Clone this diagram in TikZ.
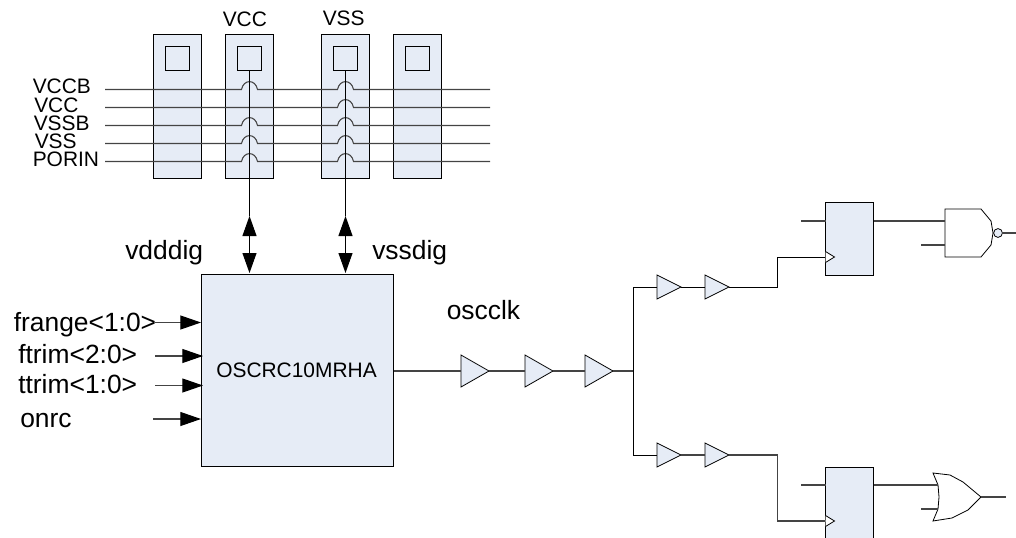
\documentclass[tikz,border=0pt]{standalone}
\usepackage{fontspec}
\setmainfont{Liberation Sans}
\usetikzlibrary{arrows.meta,shapes.geometric,calc}
\definecolor{blockfill}{HTML}{E6ECF6}
\definecolor{wiregrey}{HTML}{444444}
\tikzset{
  x=0.75pt,y=-0.75pt,
  box/.style={draw=black,fill=blockfill,line width=0.75pt,inner sep=0,outer sep=0},
  padbox/.style={box,minimum width=36pt,minimum height=108pt},
  padsq/.style={box,minimum width=18pt,minimum height=18pt},
  ffbox/.style={box,minimum width=36pt},
  wire/.style={draw=wiregrey,line width=0.8pt},
  bwire/.style={draw=black,line width=0.75pt},
  bigbuf/.style={draw=black,fill=blockfill,line width=0.6pt,isosceles triangle,isosceles triangle stretches,inner sep=0,outer sep=0,minimum width=24pt,minimum height=21pt,anchor=west},
  smallbuf/.style={bigbuf,minimum width=18pt,minimum height=18pt},
  lblS/.style={anchor=base west,inner sep=0,font=\fontsize{15.7}{18}\selectfont},
  lblB/.style={anchor=base west,inner sep=0,font=\fontsize{19.8}{22}\selectfont},
  dbl/.style={bwire,{Triangle[length=15pt,width=10.5pt]}-{Triangle[length=15pt,width=10.5pt]}},
  inarrow/.style={wire,-{Triangle[length=15.5pt,width=10.5pt,color=black,fill=black]}},
  gate/.style={draw=black,line width=0.6pt,fill=white},
  clk/.style={draw=black,line width=0.6pt,fill=white,line join=miter}
}
\begin{document}
\begin{tikzpicture}
\useasboundingbox (0,0) rectangle (1016,538);
% pads
\node[padbox] (pad1) at (177.5,107) {};
\node[padbox] (pad2) at (249.5,107) {};
\node[padbox] (pad3) at (345.5,107) {};
\node[padbox] (pad4) at (417.5,107) {};
\node[padsq] (sq1) at (177.5,59) {};
\node[padsq] (sq2) at (249.5,59) {};
\node[padsq] (sq3) at (345.5,59) {};
\node[padsq] (sq4) at (417.5,59) {};
% block
\node[box,minimum width=144pt,minimum height=144pt] (osc) at (297.5,370.5) {};
\node[lblS] (osclbl) at (216,377.5) {OSCRC10MRHA};
% buses
\newcommand{\hopat}[1]{-- (#1-8,\yb) .. controls (#1-6,\yb-10.5) and (#1+6,\yb-10.5) .. (#1+8,\yb)}
\foreach \yb/\nm in {89.5/a,125.5/c,143.5/d,161.5/e}{
  \coordinate (busL\nm) at (105,\yb);
  \coordinate (busR\nm) at (490,\yb);
  \draw[wire] (busL\nm) \hopat{249.5} \hopat{345.5} -- (busR\nm);
}
\coordinate (busLb) at (105,107.5);
\coordinate (busRb) at (490,107.5);
\def\yb{107.5}
\draw[wire] (busLb) \hopat{345.5} -- (busRb);
% bus labels
\node[lblS] (lvccb) at (32.5,93.5) {VCCB};
\node[lblS] (lvcc) at (34,113) {VCC};
\node[lblS] (lvssb) at (33.5,131) {VSSB};
\node[lblS] (lvss) at (34.5,148.5) {VSS};
\node[lblS] (lporin) at (32.5,166.5) {PORIN};
\node[lblS] (tvcc) at (222.5,27) {VCC};
\node[lblS] (tvss) at (322.5,26) {VSS};
% rails
\coordinate (up2) at ($(sq2.south)+(0,145)$);
\coordinate (dn2) at ($(sq2.south)+(0,202)$);
\coordinate (up3) at ($(sq3.south)+(0,145)$);
\coordinate (dn3) at ($(sq3.south)+(0,202)$);
\draw[bwire] (sq2.south) -- (up2);
\draw[bwire] (sq3.south) -- (up3);
\draw[dbl] (up2) -- (dn2);
\draw[dbl] (up3) -- (dn3);
\node[lblB] (lvdd) at (125,259) {vdddig};
\node[lblB] (lvss2) at (372,259) {vssdig};
% inputs
\node[lblB] (lfr) at (13.5,331.5) {frange<1:0>};
\node[lblB] (lft) at (18,363.5) {ftrim<2:0>};
\node[lblB] (ltt) at (18,393.5) {ttrim<1:0>};
\node[lblB] (lon) at (20,427.5) {onrc};
\coordinate (i1a) at (155,322.5); \coordinate (i1b) at (201,322.5);
\coordinate (i2a) at (155,356);   \coordinate (i2b) at (203,356);
\coordinate (i3a) at (155,385.5); \coordinate (i3b) at (203,385.5);
\coordinate (i4a) at (153,419);   \coordinate (i4b) at (201,419);
\draw[inarrow] (i1a) -- (i1b);
\draw[inarrow] (i2a) -- (i2b);
\draw[inarrow] (i3a) -- (i3b);
\draw[inarrow] (i4a) -- (i4b);
% clock tree
\node[lblB] (lclk) at (446.5,319.5) {oscclk};
\node[bigbuf] (b1) at (461,371) {};
\node[bigbuf] (b2) at (525,371) {};
\node[bigbuf] (b3) at (585,371) {};
\node[smallbuf] (t1) at (657,287) {};
\node[smallbuf] (t2) at (705,287) {};
\node[smallbuf] (u1) at (657,455) {};
\node[smallbuf] (u2) at (705,455) {};
\coordinate (jn) at (633.5,371);
\draw[wire] (osc.east |- b1.west) -- (b1.west);
\draw[wire] (b1.apex) -- (b2.west);
\draw[wire] (b2.apex) -- (b3.west);
\draw[wire] (b3.apex) -- (jn);
\draw[bwire] (t1.west) -| (jn) |- (u1.west);
\draw[bwire] (t1.apex) -- (t2.west);
\draw[wire] (u1.apex) -- (u2.west);
% flip-flops
\node[ffbox,minimum height=54pt] (ff1) at (849.5,239) {};
\node[ffbox,minimum height=60pt] (ff2) at (849.5,507) {};
\coordinate (ck1) at (825.5,257);
\coordinate (ck2) at (825.5,521);
\coordinate (k1) at (777.5,287);
\coordinate (k2) at (777.5,455);
\draw[bwire] (t2.apex) -- (k1) -- (k1 |- ck1) -- (ck1);
\draw[wire] (u2.apex) -- (k2) -- (k2 |- ck2) -- (ck2);
\draw[clk] (ck1) ++(0,-5.5) -- ++(9,5.5) -- ++(-9,5.5);
\draw[clk] (ck2) ++(0,-5.5) -- ++(9,5.5) -- ++(-9,5.5);
\coordinate (d1) at (801,221);
\coordinate (d2) at (801,485);
\draw[wire] (d1) -- (ff1.west |- d1);
\draw[wire] (d2) -- (ff2.west |- d2);
% NAND
\coordinate (na1) at (945,221);
\coordinate (na2) at (945,245);
\coordinate (na2s) at (921,245);
\coordinate (nao) at (1016,233);
\draw[gate] (945,209) -- (981,209) -- (991,221) -- (993,233) -- (991,245) -- (981,257) -- (945,257) -- cycle;
\node[draw=black,fill=blockfill,line width=0.6pt,circle,minimum size=6.6pt,inner sep=0,outer sep=0] (bub) at (998,233) {};
\draw[wire] (ff1.east |- na1) -- (na1);
\draw[wire] (na2s) -- (na2);
\draw[wire] (bub.east) -- (nao);
% OR
\coordinate (or1) at (938,485);
\coordinate (or2) at (938,509);
\coordinate (or2s) at (921,509);
\coordinate (oro) at (1006,497);
\draw[gate] (933,473) -- (950,475) -- (963,482) -- (981,497) -- (968,510) -- (952,518) -- (933,521) -- (938,509) -- (939,497) -- (938,485) -- cycle;
\draw[wire] (ff2.east |- or1) -- (or1);
\draw[wire] (or2s) -- (or2);
\draw[wire] (981,497) -- (oro);
\end{tikzpicture}
\end{document}
